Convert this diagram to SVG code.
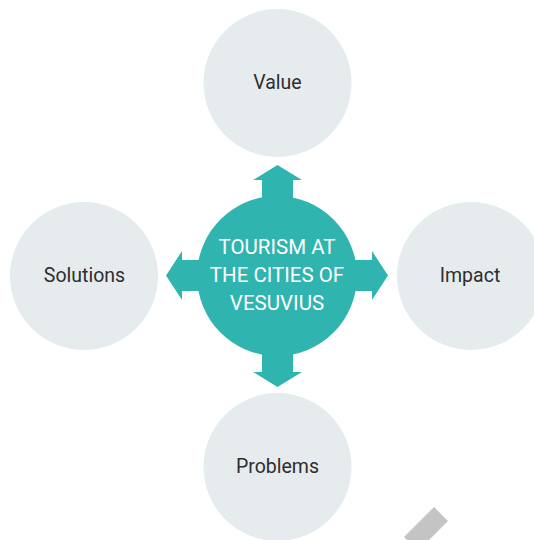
<svg xmlns="http://www.w3.org/2000/svg" width="534" height="540" viewBox="0 0 534 540">
<style>
.node{fill:#e6ebed}
.lbl{font-family:Roboto,"Noto Sans",sans-serif;font-size:19.5px;fill:#2e2e2e;text-anchor:middle}
.ctr{font-family:Roboto,"Noto Sans",sans-serif;font-size:20.5px;fill:#ffffff;text-anchor:middle}
.arr{fill:#2fb4b0}
</style>
<rect width="534" height="540" fill="#ffffff"/>
<g id="value"><circle class="node" cx="277.5" cy="83" r="74"/><text class="lbl" x="277.5" y="89">Value</text></g>
<g id="impact"><circle class="node" cx="471" cy="276" r="74"/><text class="lbl" x="470" y="282">Impact</text></g>
<g id="solutions"><circle class="node" cx="84" cy="276" r="74"/><text class="lbl" x="84.5" y="282">Solutions</text></g>
<g id="problems"><circle class="node" cx="277.5" cy="467" r="74"/><text class="lbl" x="277.5" y="473">Problems</text></g>
<g id="connectors">
<polygon class="arr" points="277.5,165 302,180 293,180 293,372 302,372 277.5,387 253,372 262,372 262,180 253,180"/>
<polygon class="arr" points="166,275.5 182,251 182,260 372,260 372,251 388,275.5 372,300 372,291 182,291 182,300"/>
</g>
<g id="center"><circle class="arr" cx="277" cy="276" r="80"/>
<text class="ctr" x="277" y="254">TOURISM AT</text>
<text class="ctr" x="277" y="282">THE CITIES OF</text>
<text class="ctr" x="277" y="310">VESUVIUS</text></g>
<polygon fill="#c4c4c4" points="434,507 448,521 418,551 404,537"/>
</svg>
